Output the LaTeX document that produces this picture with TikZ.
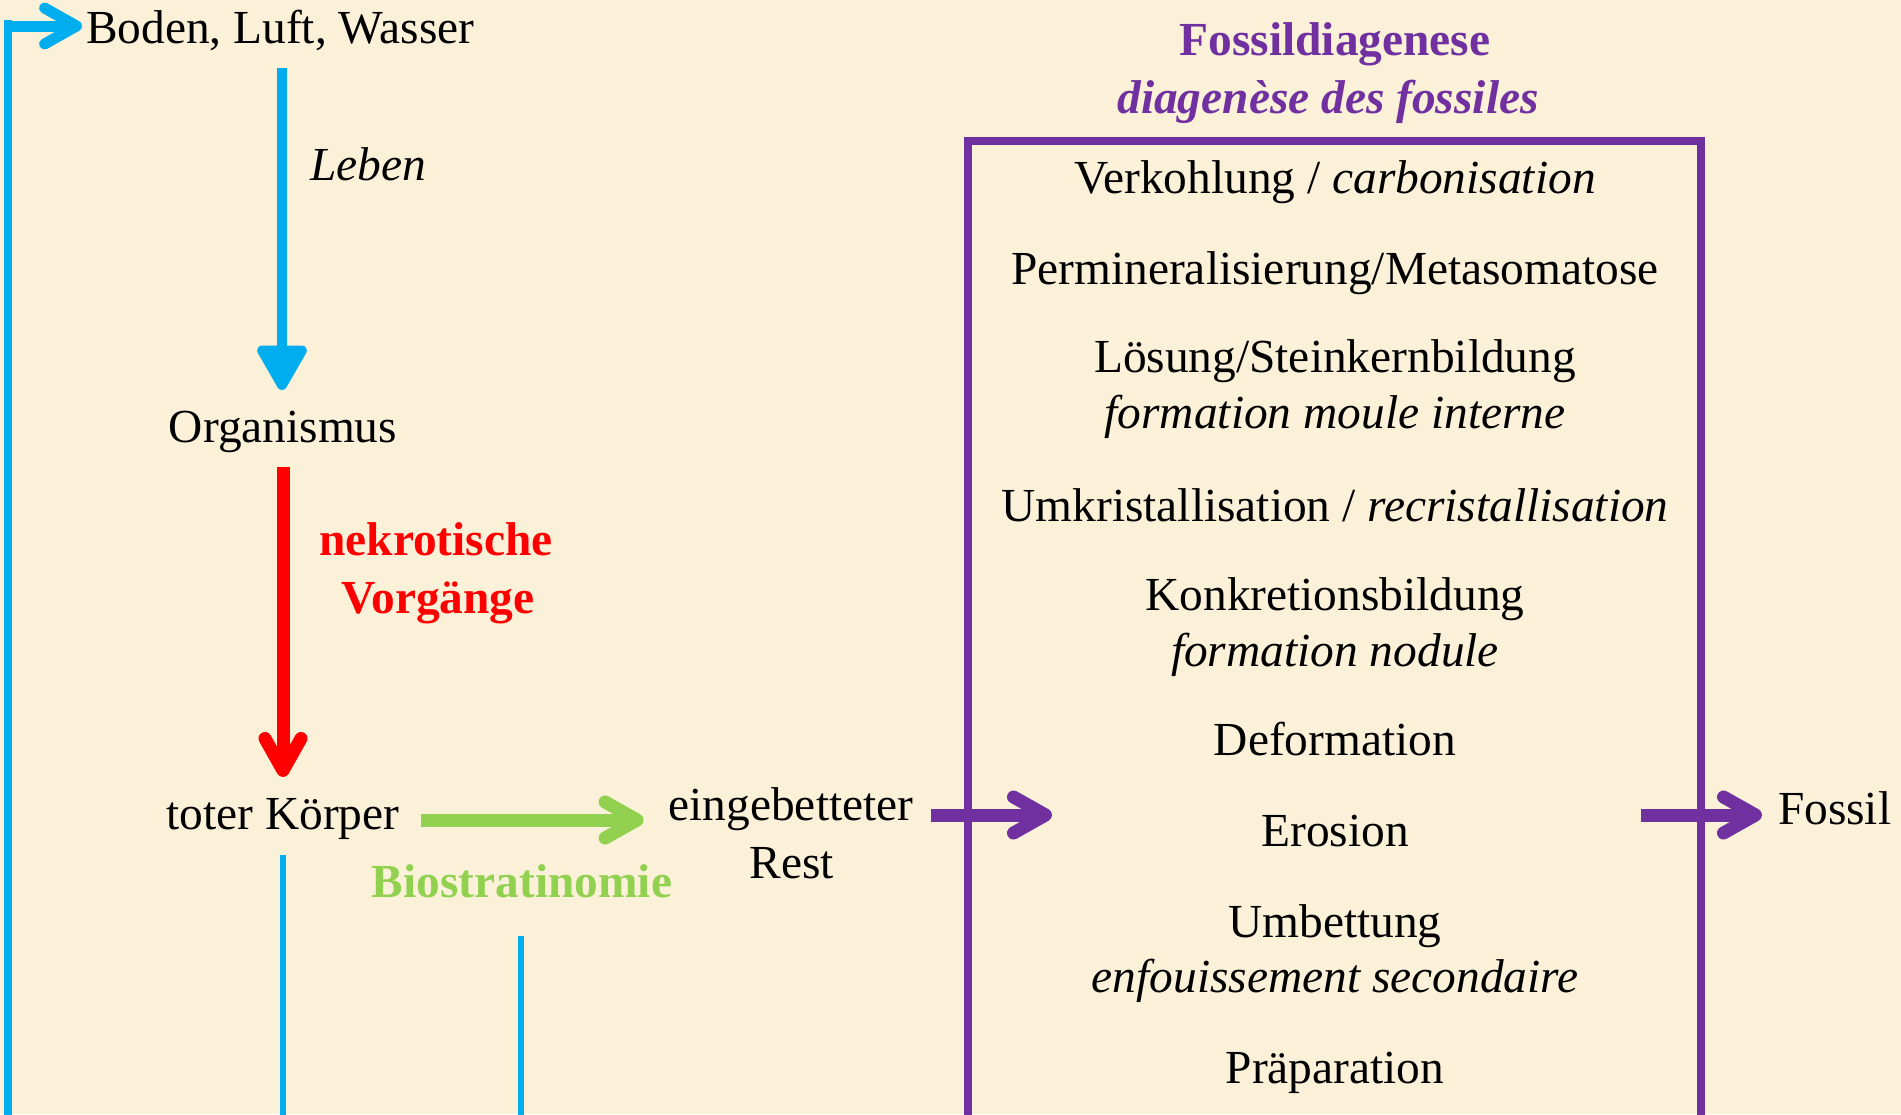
\documentclass[tikz,border=0pt]{standalone}
\usepackage{fontspec}
\setmainfont{Liberation Serif}
\usetikzlibrary{arrows.meta,calc}

\definecolor{paper}{HTML}{FBF1D9}
\definecolor{skyblue}{HTML}{00AEEF}
\definecolor{necro}{HTML}{FF0000}
\definecolor{biogreen}{HTML}{92D050}
\definecolor{diapurple}{HTML}{7030A0}

\tikzset{
  lbl/.style={inner sep=0pt, outer sep=0pt, text height=16pt, text depth=5pt,
    font=\fontsize{23.7pt}{28pt}\selectfont, anchor=base},
  chev/.style={-{Straight Barb[round,length=16pt,width=18pt]}},
  thickarrow/.style={chev, line width=6.5pt},
  lifeline/.style={skyblue, line width=3pt},
}

\begin{document}
\begin{tikzpicture}[x=0.5pt,y=-0.5pt]
\useasboundingbox (0,0) rectangle (1901,1114);
\clip (0,0) rectangle (1901,1114);
\fill[paper] (0,0) rectangle (1901,1114);

% left column: from the environment to the dead body
\node[lbl, anchor=base west] (boden) at (86,43) {Boden, Luft, Wasser};
\node[lbl, anchor=base west] (leben) at (310,180) {\itshape Leben};
\node[lbl] (org) at (283,442) {Organismus};
\node[lbl, text=necro] (nek1) at (436,555) {\bfseries nekrotische};
\node[lbl, text=necro] (nek2) at (438,613) {\bfseries Vorgänge};
\node[lbl] (toter) at (283,829) {toter Körper};
\node[lbl, text=biogreen] (bio) at (522,897) {\bfseries Biostratinomie};
\node[lbl] (ein) at (791,820) {eingebetteter};
\node[lbl] (rest) at (792,878) {Rest};

% fossil diagenesis heading and box
\node[lbl, text=diapurple] (fd1) at (1335,55) {\bfseries Fossildiagenese};
\node[lbl, text=diapurple] (fd2) at (1328,113) {\bfseries\itshape diagenèse des fossiles};
\node[draw=diapurple, line width=4pt, inner sep=0pt, outer sep=0pt,
      minimum width=366.5pt, minimum height=488.8pt, anchor=north west] (box) at (968,141) {};

\node[lbl] (it1)  at (1335,193)  {Verkohlung / \textit{carbonisation}};
\node[lbl] (it2)  at (1335,284)  {Permineralisierung/Metasomatose};
\node[lbl] (it3)  at (1335,372)  {Lösung/Steinkernbildung};
\node[lbl] (it3b) at (1335,428)  {\itshape formation moule interne};
\node[lbl] (it4)  at (1335,521)  {Umkristallisation / \textit{recristallisation}};
\node[lbl] (it5)  at (1335,610)  {Konkretionsbildung};
\node[lbl] (it5b) at (1335,666)  {\itshape formation nodule};
\node[lbl] (it6)  at (1335,755)  {Deformation};
\node[lbl] (it7)  at (1335,846)  {Erosion};
\node[lbl] (it8)  at (1335,937)  {Umbettung};
\node[lbl] (it8b) at (1335,992)  {\itshape enfouissement secondaire};
\node[lbl] (it9)  at (1335,1083) {Präparation};

\node[lbl, anchor=base west] (fossil) at (1778,824) {Fossil};

% return loop back to soil, air and water
\coordinate (loopbottom) at (8,1118.6);
\coordinate (looptop) at (8,20);
\draw[skyblue, line width=4pt] (loopbottom) -- (looptop);
\draw[skyblue, line width=5.5pt, chev] (4,26) -- ($(boden.west)+(-4,-6)$);
\draw[lifeline] ($(toter.south)+(0,16)$) -- (toter.south |- loopbottom);
\draw[lifeline] ($(bio.south)+(-1.5,29)$) -- ($(bio.south |- loopbottom)+(-1.5,0)$);
\draw[skyblue, line width=4pt] (loopbottom) -- ($(bio.south |- loopbottom)+(-1.5,0)$);

% main sequence
\draw[skyblue, line width=5pt, -{Triangle[round,length=25pt,width=27pt]}]
  ($(boden.south -| org)+(-1,15)$) -- ($(org.north)+(-1,-20)$);
\draw[necro, thickarrow] ($(org.south)+(0,15)$) -- ($(toter.north)+(0,-20)$);
\draw[biogreen, thickarrow] ($(toter.east)+(22,2)$) -- ($(ein.west |- toter.east)+(-25,2)$);
\draw[diapurple, thickarrow] ($(ein.east)+(18,6)$) -- ($(box.west |- ein.east)+(84,6)$);
\draw[diapurple, thickarrow] ($(box.east |- fossil.west)+(-60,2)$) -- ($(fossil.west)+(-16,2)$);
\end{tikzpicture}
\end{document}
